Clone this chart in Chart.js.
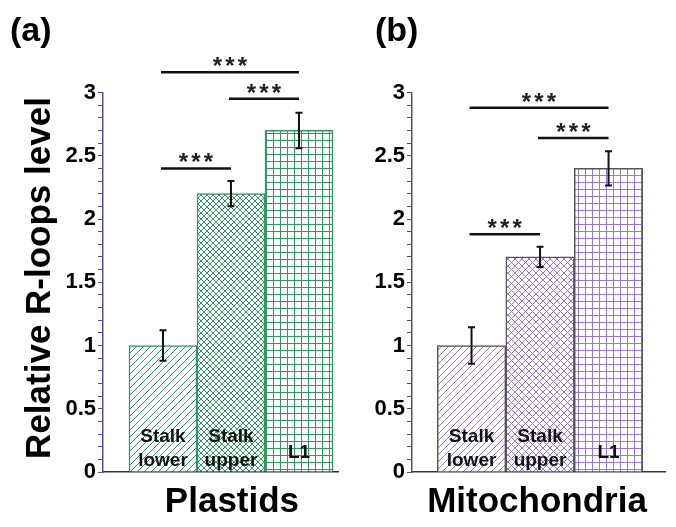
<!DOCTYPE html>
<html lang="en">

<head>
  <meta charset="UTF-8">
  <title>Relative R-loops level</title>
  <script src="https://cdn.jsdelivr.net/npm/chart.js@4.4.0/dist/chart.umd.min.js"></script>
  <style>
    html, body { margin: 0; padding: 0; background: #fff; }
    #wrap { position: relative; width: 676px; height: 527px; overflow: hidden; }
    #wrap canvas { position: absolute; top: 0; }
    #plastidsChart { left: 0; }
    #mitoChart { left: 340px; }
  </style>
</head>

<body>
  <div id="wrap">
    <canvas id="plastidsChart" width="340" height="527"></canvas>
    <canvas id="mitoChart" width="336" height="527"></canvas>
  </div>

  <script>
    // categories (drawn inside the bars)
    const categories = [['Stalk', 'lower'], ['Stalk', 'upper'], ['L1']];

    // plastids (a)
    const plastidValues = [1.0, 2.2, 2.7];
    const plastidErrors = [0.12, 0.1, 0.14];
    const plastidSig = [[0, 1, 2.4], [1, 2, 2.95], [0, 2, 3.16]];

    // mitochondria (b)
    const mitoValues = [1.0, 1.7, 2.4];
    const mitoErrors = [0.145, 0.08, 0.135];
    const mitoSig = [[0, 1, 1.88], [1, 2, 2.64], [0, 2, 2.88]];

    // labelled y ticks (minor ticks every 0.1)
    const yTickLabels = [0, 0.5, 1, 1.5, 2, 2.5, 3];
    const sigLabel = '***';

    const FONT = "'Liberation Sans', Arial, sans-serif";

    function makePattern(kind, color, size) {
      const c = document.createElement('canvas');
      c.width = c.height = size;
      const g = c.getContext('2d');
      g.fillStyle = '#fff';
      g.fillRect(0, 0, size, size);
      g.strokeStyle = color;
      g.lineWidth = 1;
      g.beginPath();
      if (kind === 'diag' || kind === 'cross') {
        g.moveTo(-1, size + 1); g.lineTo(size + 1, -1);
        g.moveTo(-1, 1); g.lineTo(1, -1);
        g.moveTo(size - 1, size + 1); g.lineTo(size + 1, size - 1);
      }
      if (kind === 'cross') {
        g.moveTo(-1, -1); g.lineTo(size + 1, size + 1);
        g.moveTo(size - 1, -1); g.lineTo(size + 1, 1);
        g.moveTo(-1, size - 1); g.lineTo(1, size + 1);
      }
      if (kind === 'grid') {
        g.moveTo(0.5, 0); g.lineTo(0.5, size);
        g.moveTo(0, 0.5); g.lineTo(size, 0.5);
      }
      g.stroke();
      return g.createPattern(c, 'repeat');
    }

    // draws error bars, significance brackets and all the extra text
    const annotPlugin = {
      id: 'annot',
      afterDraw(chart, args, opts) {
        const ctx = chart.ctx;
        const meta = chart.getDatasetMeta(0);
        const y = chart.scales.y;
        const bottom = chart.chartArea.bottom;
        ctx.save();

        // error bars
        ctx.strokeStyle = '#111';
        ctx.lineWidth = 2;
        opts.values.forEach((v, i) => {
          const x = meta.data[i].x;
          const top = y.getPixelForValue(v + opts.errors[i]);
          const bot = y.getPixelForValue(v - opts.errors[i]);
          ctx.beginPath();
          ctx.moveTo(x, top); ctx.lineTo(x, bot);
          ctx.moveTo(x - 3.5, top); ctx.lineTo(x + 3.5, top);
          ctx.moveTo(x - 3.5, bot); ctx.lineTo(x + 3.5, bot);
          ctx.stroke();
        });

        // significance brackets
        opts.sig.forEach(([i, j, level]) => {
          const x1 = meta.data[i].x - 2;
          const x2 = meta.data[j].x;
          const ly = y.getPixelForValue(level);
          ctx.strokeStyle = '#111';
          ctx.lineWidth = 2.5;
          ctx.beginPath();
          ctx.moveTo(x1, ly); ctx.lineTo(x2, ly);
          ctx.stroke();
          ctx.fillStyle = '#222';
          ctx.font = 'bold 24px ' + FONT;
          ctx.textAlign = 'center';
          ctx.textBaseline = 'alphabetic';
          const mid = (x1 + x2) / 2;
          sigLabel.split('').forEach((s, k) => {
            ctx.fillText(s, mid + (k - 1) * 12.5, ly + 2);
          });
        });

        // category labels inside the bars
        ctx.fillStyle = '#111';
        ctx.font = 'bold 19px ' + FONT;
        ctx.textAlign = 'center';
        categories.forEach((lines, i) => {
          const x = meta.data[i].x;
          if (lines.length === 2) {
            ctx.fillText(lines[0], x, bottom - 30);
            ctx.fillText(lines[1], x, bottom - 6);
          } else {
            ctx.fillText(lines[0], x, bottom - 14);
          }
        });

        // x title
        ctx.fillStyle = '#000';
        ctx.font = 'bold 35px ' + FONT;
        ctx.fillText(opts.xTitle, meta.data[1].x + opts.xTitleShift, 512);

        // panel letter
        ctx.textAlign = 'left';
        ctx.font = 'bold 34px ' + FONT;
        ctx.fillText(opts.panel, opts.panelX, 41);

        // y title
        if (opts.yTitle) {
          ctx.translate(50, 278);
          ctx.rotate(-Math.PI / 2);
          ctx.textAlign = 'center';
          ctx.font = 'bold 35px ' + FONT;
          ctx.fillText(opts.yTitle, 0, 0);
        }
        ctx.restore();
      }
    };

    function buildPanel(id, cfg) {
      return new Chart(document.getElementById(id), {
        type: 'bar',
        data: {
          datasets: [{
            data: cfg.values.map((v, i) => ({ x: i, y: v })),
            backgroundColor: cfg.patterns,
            borderColor: cfg.barBorder,
            borderWidth: 1.5,
            barPercentage: 1,
            categoryPercentage: 1
          }]
        },
        plugins: [annotPlugin],
        options: {
          responsive: false,
          animation: false,
          layout: { padding: { top: 92.5, left: 0, right: cfg.padRight, bottom: 0 } },
          plugins: {
            legend: { display: false },
            tooltip: { enabled: false },
            annot: {
              values: cfg.values,
              errors: cfg.errors,
              sig: cfg.sig,
              xTitle: cfg.xTitle,
              xTitleShift: cfg.xTitleShift,
              panel: cfg.panel,
              panelX: cfg.panelX,
              yTitle: cfg.yTitle
            }
          },
          scales: {
            x: {
              type: 'linear',
              min: cfg.xMin,
              max: cfg.xMax,
              afterBuildTicks: s => { s.ticks = []; },
              afterFit: s => { s.height = 55; },
              grid: { display: false },
              ticks: { display: false },
              border: { color: '#333', width: 1.5 }
            },
            y: {
              min: 0,
              max: 3,
              afterFit: s => { s.width = cfg.yWidth; },
              border: { color: cfg.axisColor, width: 1.5 },
              grid: { drawOnChartArea: false, drawTicks: true, tickLength: 5, color: cfg.axisColor },
              ticks: {
                stepSize: 0.1,
                autoSkip: false,
                padding: 2,
                color: '#000',
                font: { family: FONT, size: 22, weight: 'bold' },
                callback: v => {
                  const r = Math.round(v * 10) / 10;
                  return yTickLabels.includes(r) ? String(r) : '';
                }
              }
            }
          }
        }
      });
    }

    const green = '#2e9a5e';
    const purple = '#9479e0';

    buildPanel('plastidsChart', {
      values: plastidValues,
      errors: plastidErrors,
      sig: plastidSig,
      patterns: [makePattern('diag', green, 7), makePattern('cross', green, 6), makePattern('grid', green, 7)],
      barBorder: green,
      axisColor: '#5050aa',
      xMin: -0.882, xMax: 2.574,
      yWidth: 103, padRight: 2,
      xTitle: 'Plastids', xTitleShift: 1,
      panel: '(a)', panelX: 10,
      yTitle: 'Relative R-loops level'
    });

    buildPanel('mitoChart', {
      values: mitoValues,
      errors: mitoErrors,
      sig: mitoSig,
      patterns: [makePattern('diag', purple, 7), makePattern('cross', purple, 7), makePattern('grid', purple, 7)],
      barBorder: '#555',
      axisColor: '#555',
      xMin: -0.869, xMax: 2.824,
      yWidth: 72, padRight: 11,
      xTitle: 'Mitochondria', xTitleShift: -3,
      panel: '(b)', panelX: 35,
      yTitle: null
    });
  </script>

</body>

</html>
